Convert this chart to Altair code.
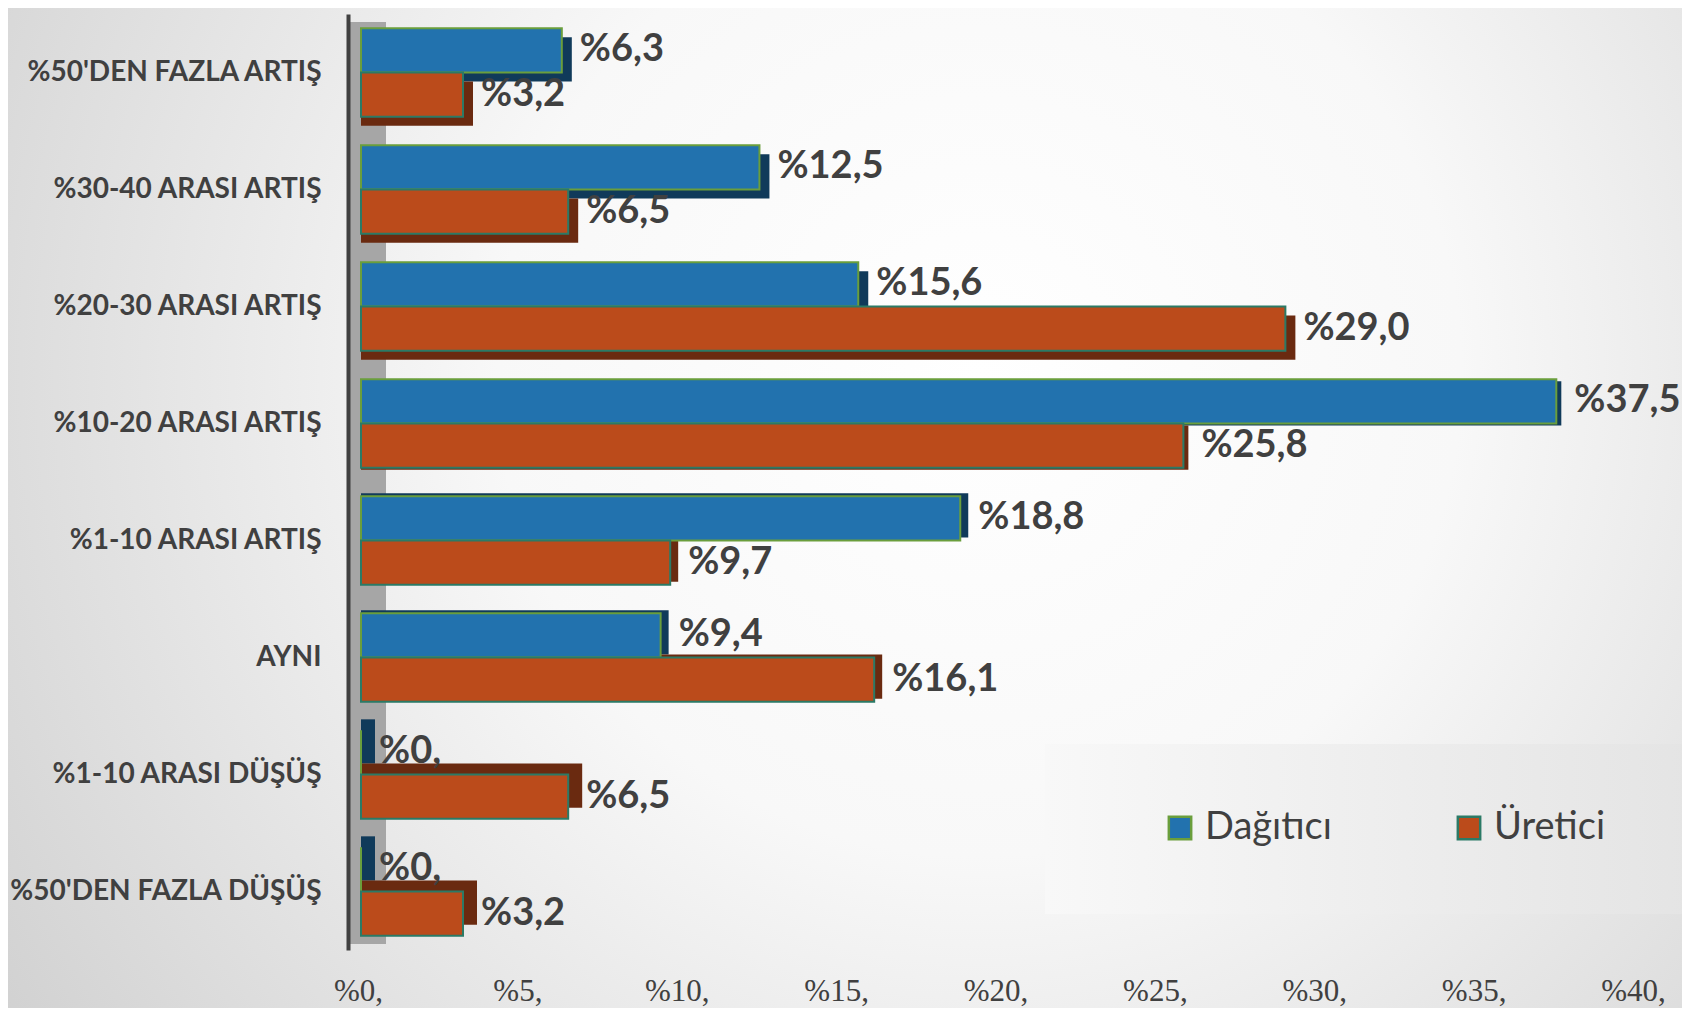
import altair as alt
import pandas as pd

categories = ["%50'DEN FAZLA ARTIŞ", "%30-40 ARASI ARTIŞ", "%20-30 ARASI ARTIŞ",
              "%10-20 ARASI ARTIŞ", "%1-10 ARASI ARTIŞ", "AYNI",
              "%1-10 ARASI DÜŞÜŞ", "%50'DEN FAZLA DÜŞÜŞ"]
dagitici = [6.3, 12.5, 15.6, 37.5, 18.8, 9.4, 0.0, 0.0]
uretici = [3.2, 6.5, 29.0, 25.8, 9.7, 16.1, 6.5, 3.2]
series = ["Dağıtıcı", "Üretici"]
tick_values = [0, 5, 10, 15, 20, 25, 30, 35, 40]


def fmt(v):
    return "%0," if v == 0 else "%" + f"{v:.1f}".replace(".", ",")


rows = []
for c, d, u in zip(categories, dagitici, uretici):
    rows.append({"cat": c, "series": series[0], "value": d, "label": fmt(d)})
    rows.append({"cat": c, "series": series[1], "value": u, "label": fmt(u)})
df = pd.DataFrame(rows)

W, H = 1275, 936
PAD_L, PAD_R, PAD_T, PAD_B = 353, 46, 6, 58
TXT = "#404040"
P_IN, P_OUT = 0.245, 0.1225
BW = H / (len(categories) - P_IN + 2 * P_OUT) * (1 - P_IN)   # band width of a group
X_MAX = 40
PX_TO_UNIT = X_MAX / W

x_axis = alt.Axis(values=tick_values, labelExpr="'%' + datum.value + ','",
                  domain=False, ticks=False, grid=False, title=None,
                  labelFont="Liberation Sans Narrow", labelFontSize=31,
                  labelColor=TXT, labelPadding=26, labelOffset=-3,
                  labelFlush=False, zindex=2)
x_scale = alt.Scale(domain=[0, X_MAX], nice=False, zero=True)
x_enc = alt.X("value:Q", scale=x_scale, axis=x_axis)
y_enc = alt.Y("cat:N", sort=categories,
              scale=alt.Scale(paddingInner=P_IN, paddingOuter=P_OUT),
              axis=alt.Axis(title=None, offset=13, domain=True, domainColor=TXT,
                            domainWidth=4, ticks=False, labelFont="Lato",
                            labelFontWeight="bold", labelFontSize=28, labelColor=TXT,
                            labelPadding=27, labelLimit=500, zindex=2))


def yoff(shift=0):
    sc = alt.Scale(type="band", paddingInner=0, paddingOuter=0,
                   range=[shift, shift + BW])
    return alt.YOffset("series:N", sort=series, scale=sc)


one = alt.Data(values=[{"k": 1}])

bg = alt.Chart(one).mark_rect(
    color={"gradient": "radial", "x1": 0.58, "y1": 0.42, "r1": 0,
           "x2": 0.58, "y2": 0.42, "r2": 0.72,
           "stops": [{"offset": 0, "color": "#ffffff"},
                     {"offset": 0.4, "color": "#f8f8f8"},
                     {"offset": 1, "color": "#cfcfcf"}]}
).encode(x=alt.value(-PAD_L), x2=alt.value(W + PAD_R),
         y=alt.value(-PAD_T), y2=alt.value(H + PAD_B))

wall = alt.Chart(one).mark_rect(color="#a6a6a6").encode(
    x=alt.value(-11), x2=alt.value(25), y=alt.value(8), y2=alt.value(930))

legend_box = alt.Chart(one).mark_rect(
    color={"gradient": "linear", "x1": 0, "y1": 0, "x2": 1, "y2": 0,
           "stops": [{"offset": 0, "color": "#f8f8f8"},
                     {"offset": 1, "color": "#e4e4e4"}]}
).encode(x=alt.value(684), x2=alt.value(1340), y=alt.value(730), y2=alt.value(900))

# 3-D depth faces: dark copies of the bars, lengthened by a few pixels and
# shifted vertically per group of categories
depth_groups = [(categories[0:3], 10, 9), (categories[3:4], 5, 2),
                (categories[4:6], 8, -3), (categories[6:8], 14, -11)]
shadows = []
for cats, dx, dy in depth_groups:
    shadows.append(
        alt.Chart(df).transform_filter(
            alt.FieldOneOfPredicate(field="cat", oneOf=cats)
        ).transform_calculate(
            depth_end=f"datum.value + {dx * PX_TO_UNIT}"
        ).mark_bar().encode(
            x=alt.X("depth_end:Q", scale=x_scale, axis=x_axis),
            y=y_enc, yOffset=yoff(dy),
            color=alt.condition(f"datum.series == '{series[0]}'",
                                alt.value("#103a5a"), alt.value("#6a2a10")),
        )
    )

bars = alt.Chart(df).mark_bar(strokeWidth=2).encode(
    x=x_enc, y=y_enc, yOffset=yoff(),
    fill=alt.Fill("series:N", sort=series,
                  scale=alt.Scale(domain=series, range=["#2272ae", "#bb4b1b"]),
                  legend=alt.Legend(title=None)),
    stroke=alt.Stroke("series:N", sort=series,
                      scale=alt.Scale(domain=series, range=["#6a9e3c", "#2b7a66"]),
                      legend=alt.Legend(title=None)),
)

labels = alt.Chart(df).mark_text(
    align="left", baseline="middle", dx=18, font="Lato", fontWeight="bold",
    fontSize=38, color=TXT
).encode(x=x_enc, y=y_enc, yOffset=yoff(), text="label:N")

chart = alt.layer(bg, wall, legend_box, *shadows, bars, labels).resolve_scale(
    yOffset="independent"
).properties(
    width=W, height=H,
    autosize=alt.AutoSizeParams(type="none"),
    padding={"left": PAD_L, "top": PAD_T, "right": PAD_R, "bottom": PAD_B},
).configure_view(stroke=None).configure_legend(
    orient="none", legendX=800, legendY=795, direction="horizontal",
    labelFont="Lato", labelFontSize=38, labelColor=TXT, symbolType="square",
    symbolSize=500, symbolStrokeWidth=2.5, columnPadding=118, labelOffset=6,
    padding=0,
)

chart.save("out.html", embed_options={"renderer": "svg", "actions": False})
